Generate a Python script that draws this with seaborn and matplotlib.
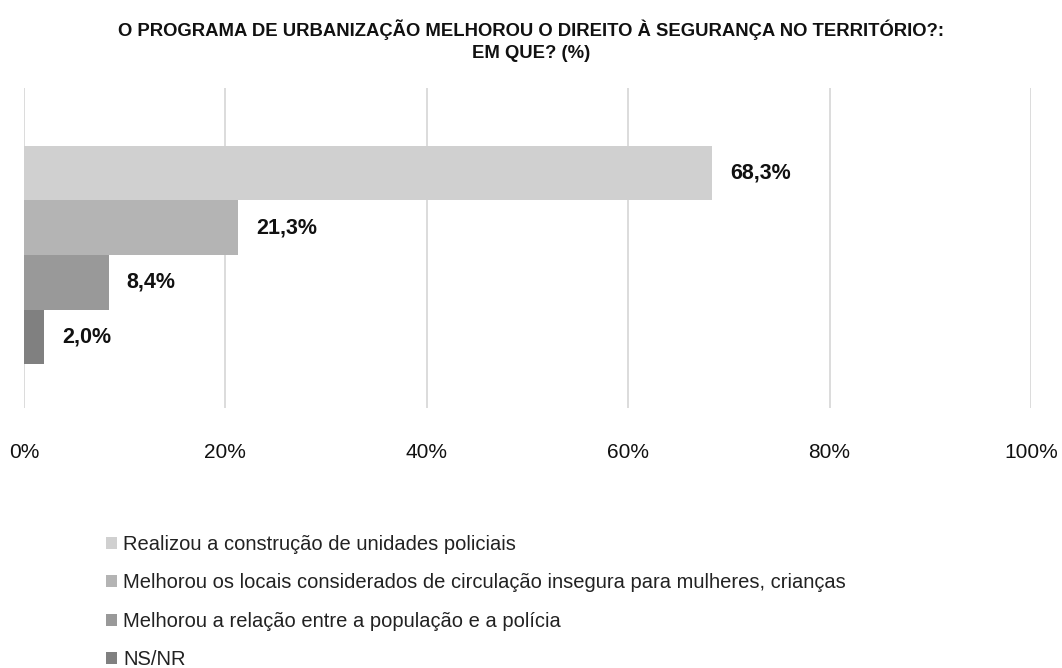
import matplotlib
matplotlib.use("Agg")
import matplotlib.pyplot as plt
from matplotlib.patches import Patch
import seaborn as sns
import pandas as pd

# Data
categories = [
    "Realizou a construção de unidades policiais",
    "Melhorou os locais considerados de circulação insegura para mulheres, crianças",
    "Melhorou a relação entre a população e a polícia",
    "NS/NR",
]
values = [68.3, 21.3, 8.4, 2.0]
value_labels = ["68,3%", "21,3%", "8,4%", "2,0%"]
tick_values = [0, 20, 40, 60, 80, 100]
tick_labels = ["0%", "20%", "40%", "60%", "80%", "100%"]
title_lines = [
    "O PROGRAMA DE URBANIZAÇÃO MELHOROU O DIREITO À SEGURANÇA NO TERRITÓRIO?:",
    "EM QUE? (%)",
]
colors = ["#d0d0d0", "#b4b4b4", "#999999", "#808080"]

sns.set_theme(style="white")
plt.rcParams["font.family"] = ["Liberation Sans", "DejaVu Sans"]

df = pd.DataFrame({"categoria": categories, "valor": values})

fig = plt.figure(figsize=(10.62, 6.68), dpi=100)
W, H = 1062, 668
ax = fig.add_axes([24 / W, 1 - 408 / H, (1031 - 24) / W, (408 - 88) / H])

sns.barplot(data=df, x="valor", y="categoria", hue="categoria",
            palette=colors, width=1.0, orient="h", ax=ax, legend=False,
            saturation=1, linewidth=0)

ax.set_xlim(0, 100)
ax.set_ylim(4.307, -1.564)
ax.set_xticks(tick_values)
ax.set_xticklabels(tick_labels, fontsize=15, color="#111111")
ax.set_yticks([])
ax.set_xlabel("")
ax.set_ylabel("")
ax.tick_params(axis="x", length=0, pad=25)
for s in ax.spines.values():
    s.set_visible(False)
ax.grid(axis="x", color="#d9d9d9", linewidth=1.3)
ax.set_axisbelow(True)

for i, (v, lab) in enumerate(zip(values, value_labels)):
    ax.text(v + 1.8, i, lab, va="center", ha="left", fontsize=15.5,
            fontweight="bold", color="#111111")

for y, line in zip([30, 53], title_lines):
    fig.text(0.5, 1 - y / H, line, ha="center", va="center", fontsize=13.3,
             fontweight="bold", color="#111111")

handles = [Patch(facecolor=c, edgecolor="none") for c in colors]
fig.legend(handles, categories, loc="upper left",
           bbox_to_anchor=(92 / W, 1 - 521 / H), frameon=False,
           fontsize=14.5, labelspacing=0.96, handlelength=0.55,
           handleheight=0.55, handletextpad=0.3, labelcolor="#222222",
           borderpad=0.2)

fig.savefig("out.png", dpi=100, facecolor="white")
